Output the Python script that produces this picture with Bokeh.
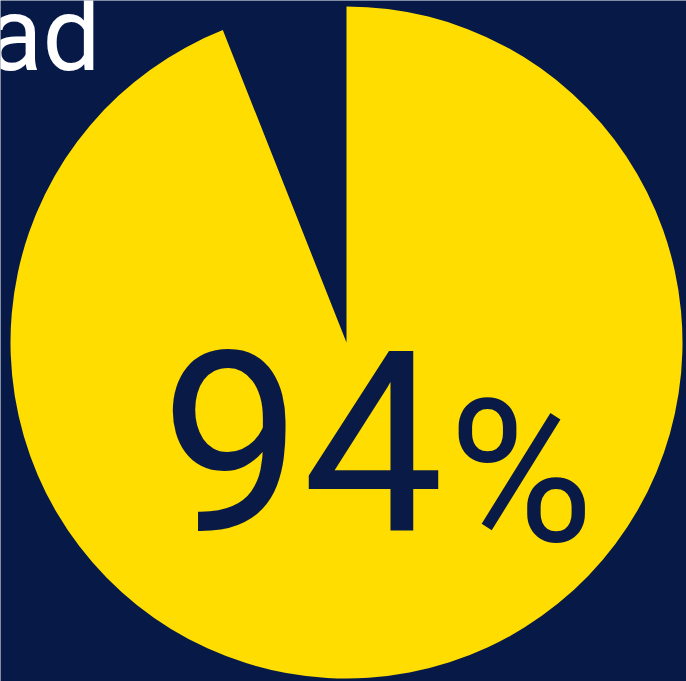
import numpy as np
from bokeh.plotting import figure
from bokeh.models import Range1d, ColumnDataSource
from bokeh.core.properties import value
from bokeh.embed import file_html
from bokeh.resources import INLINE

# Data
categories = ["Remaining", "Share"]
values = [6, 94]
colors = ["#071a47", "#ffdd00"]
big_label = "94"
pct_label = "%"
title_fragment = "ad"

W, H = 686, 681
BG = "#071a47"

p = figure(width=W, height=H, output_backend="svg", toolbar_location=None,
           x_range=Range1d(0, W), y_range=Range1d(0, H), min_border=0,
           background_fill_color=BG, border_fill_color=BG, outline_line_color=None)
p.axis.visible = False
p.grid.visible = False

fr = np.array(values, dtype=float) / sum(values)
ends = np.cumsum(fr) * 2 * np.pi + np.pi / 2
starts = np.concatenate([[np.pi / 2], ends[:-1]])
src = ColumnDataSource(dict(cat=categories, start=starts, end=ends, color=colors,
                            x=[346] * 2, y=[H - 342] * 2))
p.wedge(x="x", y="y", radius=336, start_angle="start", end_angle="end",
        direction="anticlock", fill_color="color", line_color=None, source=src)

p.text(x=[160], y=[H - 440], text=[big_label], text_color="#081a45",
       text_font=value("Roboto"), text_font_size="252px",
       text_align="left", text_baseline="alphabetic")
p.text(x=[448], y=[H - 472], text=[pct_label], text_color="#081a45",
       text_font=value("Roboto"), text_font_size="198px",
       text_align="left", text_baseline="alphabetic")
p.text(x=[100], y=[H - 34], text=[title_fragment], text_color="#ffffff",
       text_font=value("Roboto"), text_font_size="103px",
       text_align="right", text_baseline="alphabetic")

open("out.html", "w").write(file_html(p, INLINE))
